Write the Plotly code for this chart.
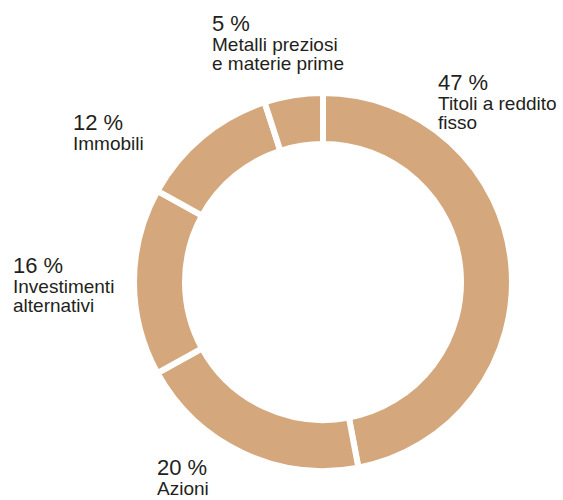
import plotly.graph_objects as go

categories = ["Titoli a reddito<br>fisso", "Azioni", "Investimenti<br>alternativi", "Immobili", "Metalli preziosi<br>e materie prime"]
values = [47, 20, 16, 12, 5]
pct_labels = ["47 %", "20 %", "16 %", "12 %", "5 %"]

W, H = 563, 500
# label anchor positions in pixels (left x, baseline y of percent text)
label_pos = [(437, 89), (156, 474), (12, 272), (72, 129), (211, 30)]

color = "#D4A77C"
txt = "#231F20"
font = "Liberation Sans, Arial, Helvetica, sans-serif"

CX, CY, R, LW = 323, 282, 189, 6
fig = go.Figure(go.Pie(
    values=values,
    labels=[c.replace("<br>", " ") for c in categories],
    sort=False,
    direction="clockwise",
    rotation=0,
    hole=138 / R,
    textinfo="none",
    hoverinfo="label+percent",
    marker=dict(colors=[color] * len(values), line=dict(color="white", width=LW)),
    domain=dict(x=[(CX - R) / W, (CX + R) / W], y=[(H - CY - R) / H, (H - CY + R) / H]),
    showlegend=False,
))

PS, LS = 22, 19


def top_for_baseline(b, s):
    return b - 0.905 * s


annotations = []
for cat, pct, (px, pb) in zip(categories, pct_labels, label_pos):
    annotations.append(dict(
        x=px / W, y=1 - top_for_baseline(pb, PS) / H, xref="paper", yref="paper",
        xanchor="left", yanchor="top", align="left", showarrow=False, borderpad=0,
        text=pct, font=dict(family=font, size=PS, color=txt),
    ))
    for i, line in enumerate(cat.split("<br>")):
        b = pb + 20.5 + 18.5 * i
        annotations.append(dict(
            x=px / W, y=1 - top_for_baseline(b, LS) / H, xref="paper", yref="paper",
            xanchor="left", yanchor="top", align="left", showarrow=False, borderpad=0,
            text=line, font=dict(family=font, size=LS, color=txt),
        ))

fig.update_layout(
    width=W, height=H,
    margin=dict(l=0, r=0, t=0, b=0),
    paper_bgcolor="white", plot_bgcolor="white",
    annotations=annotations,
)

fig.write_html("out.html")
